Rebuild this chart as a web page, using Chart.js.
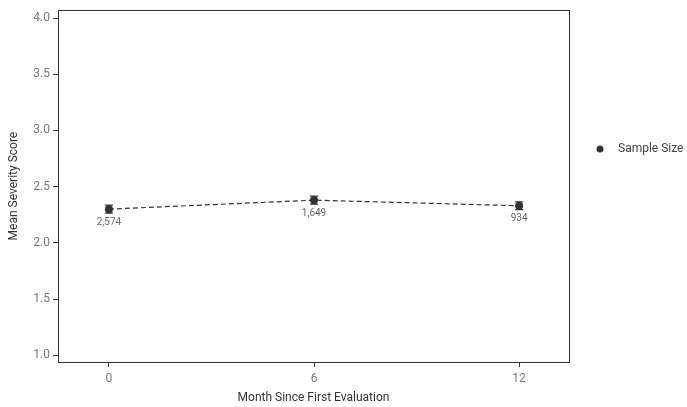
<!DOCTYPE html>
<html>
<head>
<meta charset="utf-8">
<script src="https://cdn.jsdelivr.net/npm/chart.js@4"></script>
<style>
  html, body { margin: 0; padding: 0; background: #fff; }
  #wrap { width: 687px; height: 407px; }
</style>
</head>
<body>
<div id="wrap"><canvas id="chart"></canvas></div>
<script>
// ── DATA ────────────────────────────────────────────
const months      = [0, 6, 12];
const meanScores  = [2.30, 2.38, 2.33];
const errLow      = [2.265, 2.345, 2.295];
const errHigh     = [2.335, 2.415, 2.365];
const sampleSizes = ['2,574', '1,649', '934'];
const xTicks      = [0, 6, 12];
const yTicks      = [1.0, 1.5, 2.0, 2.5, 3.0, 3.5, 4.0];

const INK  = '#333333';
const GREY = '#777777';
const FONT = 'Roboto';

// error bars + sample size labels
const extras = {
  id: 'extras',
  afterDatasetsDraw(chart) {
    const { ctx, scales: { x, y } } = chart;
    ctx.save();
    ctx.strokeStyle = INK;
    ctx.lineWidth = 1.2;
    months.forEach((m, i) => {
      const px = x.getPixelForValue(m);
      const lo = y.getPixelForValue(errLow[i]);
      const hi = y.getPixelForValue(errHigh[i]);
      ctx.beginPath();
      ctx.moveTo(px, lo); ctx.lineTo(px, hi);
      ctx.moveTo(px - 4, lo); ctx.lineTo(px + 4, lo);
      ctx.moveTo(px - 4, hi); ctx.lineTo(px + 4, hi);
      ctx.stroke();
    });
    ctx.fillStyle = '#666666';
    ctx.font = '10px ' + FONT;
    ctx.textAlign = 'center';
    ctx.textBaseline = 'middle';
    months.forEach((m, i) => {
      ctx.fillText(sampleSizes[i], x.getPixelForValue(m), y.getPixelForValue(meanScores[i]) + 13);
    });
    ctx.restore();
  },
  afterDraw(chart) {
    const { ctx, chartArea: a } = chart;
    ctx.save();
    ctx.strokeStyle = INK;
    ctx.lineWidth = 1;
    ctx.strokeRect(Math.round(a.left) + 0.5, Math.round(a.top) + 0.5,
                   Math.round(a.right - a.left), Math.round(a.bottom - a.top));
    // legend
    ctx.fillStyle = INK;
    ctx.beginPath();
    ctx.arc(600, 149, 3.5, 0, Math.PI * 2);
    ctx.fill();
    ctx.fillStyle = '#444444';
    ctx.font = '12px ' + FONT;
    ctx.textBaseline = 'middle';
    ctx.textAlign = 'left';
    ctx.fillText('Sample Size', 618, 149);
    ctx.restore();
  }
};

new Chart(document.getElementById('chart'), {
  type: 'line',
  data: {
    datasets: [{
      label: 'Sample Size',
      data: months.map((m, i) => ({ x: m, y: meanScores[i] })),
      borderColor: INK,
      borderWidth: 1.2,
      borderDash: [5, 3],
      pointRadius: 4,
      pointBackgroundColor: INK,
      pointBorderColor: INK,
      pointBorderWidth: 0,
      tension: 0,
      fill: false,
    }]
  },
  options: {
    responsive: true,
    maintainAspectRatio: false,
    animation: false,
    layout: { padding: { top: 8, right: 118, bottom: 0, left: 0 } },
    plugins: { legend: { display: false }, tooltip: { enabled: false } },
    scales: {
      x: {
        type: 'linear',
        min: -1.49,
        max: 13.46,
        afterBuildTicks: s => { s.ticks = xTicks.map(v => ({ value: v })); },
        afterFit: s => { s.height = 45; },
        grid: { color: 'transparent', tickColor: INK, tickLength: 5 },
        border: { display: true, color: INK },
        ticks: { color: GREY, font: { family: FONT, size: 12 }, padding: 5 },
        title: {
          display: true, text: 'Month Since First Evaluation',
          color: INK, font: { family: FONT, size: 12 }, padding: { top: 0, bottom: 2 }
        }
      },
      y: {
        min: 0.94,
        max: 4.07,
        afterBuildTicks: s => { s.ticks = yTicks.map(v => ({ value: v })); },
        afterFit: s => { s.width = 58; },
        grid: { color: 'transparent', tickColor: INK, tickLength: 5 },
        border: { display: true, color: INK },
        ticks: {
          color: GREY, font: { family: FONT, size: 12 }, padding: 3,
          callback: v => v.toFixed(1)
        },
        title: {
          display: true, text: 'Mean Severity Score',
          color: INK, font: { family: FONT, size: 12 }, padding: { top: 7, bottom: 0 }
        }
      }
    }
  },
  plugins: [extras]
});
</script>
</body>
</html>
